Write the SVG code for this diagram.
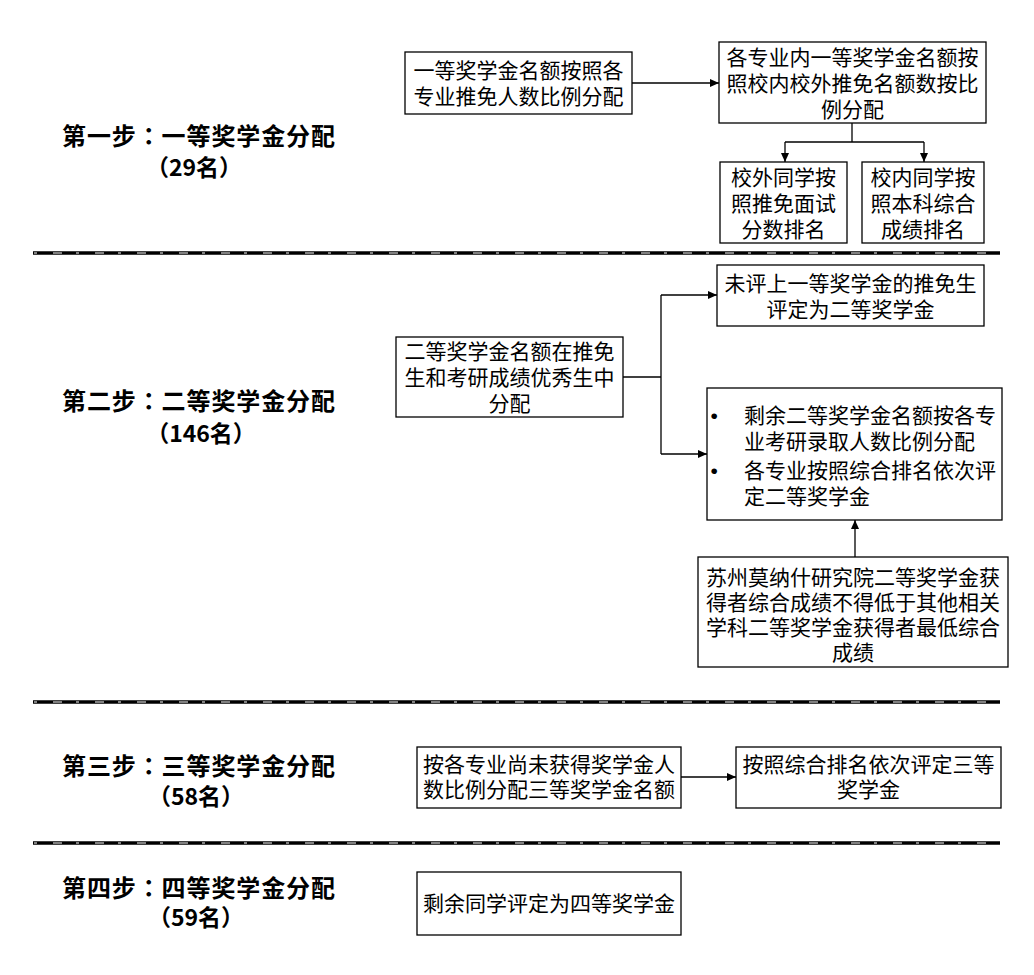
<svg xmlns="http://www.w3.org/2000/svg" width="1034" height="975" viewBox="0 0 1034 975">
<style>
.bg{fill:#ffffff}
.box{fill:#ffffff;stroke:#000000;stroke-width:1.3}
.t{font-family:"Noto Sans CJK SC","Liberation Sans",sans-serif;font-size:21px;fill:#000000;text-anchor:middle}
.tl{font-family:"Noto Sans CJK SC","Liberation Sans",sans-serif;font-size:21px;fill:#000000}
.bul{font-family:"Liberation Sans",sans-serif;font-size:21px;fill:#000000}
.step{font-family:"Noto Sans CJK SC","Liberation Sans",sans-serif;font-size:24px;font-weight:bold;fill:#000000}
.cnt{font-family:"Noto Sans CJK SC","Liberation Sans",sans-serif;font-size:23px;font-weight:bold;fill:#000000;text-anchor:middle}
.colon{font-family:"Noto Sans CJK TC","Noto Sans CJK SC",sans-serif}
.conn{fill:none;stroke:#000000;stroke-width:1.3}
.sepb{stroke:#000000;stroke-width:3.5}
.sepw{stroke:#ffffff;stroke-width:1.2;stroke-dasharray:9 14 3 16;stroke-dashoffset:22}
</style>
<defs>
<marker id="arr" markerUnits="userSpaceOnUse" markerWidth="10" markerHeight="9" refX="9" refY="4" orient="auto">
<path d="M0,0 L9,4 L0,8 z" fill="#000000"/>
</marker>
</defs>
<rect class="bg" x="0" y="0" width="1034" height="975"/>

<g id="separators">
<line class="sepb" x1="33" y1="253" x2="1000" y2="253"/>
<line class="sepw" x1="33" y1="253" x2="999" y2="253"/>
<line class="sepb" x1="33" y1="702" x2="1000" y2="702"/>
<line class="sepw" x1="33" y1="702" x2="999" y2="702"/>
<line class="sepb" x1="33" y1="843" x2="1000" y2="843"/>
<line class="sepw" x1="33" y1="843" x2="999" y2="843"/>
</g>

<g id="step1-label">
<text class="step" x="62" y="145" textLength="273" lengthAdjust="spacing">第一步<tspan class="colon">：</tspan>一等奖学金分配</text>
<text class="cnt" x="194" y="176">（29名）</text>
</g>
<g id="step2-label">
<text class="step" x="62" y="410" textLength="273" lengthAdjust="spacing">第二步<tspan class="colon">：</tspan>二等奖学金分配</text>
<text class="cnt" x="201" y="442">（146名）</text>
</g>
<g id="step3-label">
<text class="step" x="62" y="775" textLength="273" lengthAdjust="spacing">第三步<tspan class="colon">：</tspan>三等奖学金分配</text>
<text class="cnt" x="196" y="805">（58名）</text>
</g>
<g id="step4-label">
<text class="step" x="62" y="897" textLength="273" lengthAdjust="spacing">第四步<tspan class="colon">：</tspan>四等奖学金分配</text>
<text class="cnt" x="196" y="926">（59名）</text>
</g>

<g id="connectors">
<line class="conn" x1="632" y1="83" x2="719" y2="83" marker-end="url(#arr)"/>
<polyline class="conn" points="852,123 852,142"/>
<polyline class="conn" points="785,142 924,142"/>
<line class="conn" x1="785" y1="142" x2="785" y2="162" marker-end="url(#arr)"/>
<line class="conn" x1="924" y1="142" x2="924" y2="162" marker-end="url(#arr)"/>
<line class="conn" x1="623" y1="377" x2="661" y2="377"/>
<polyline class="conn" points="661,295 661,454"/>
<line class="conn" x1="661" y1="295" x2="717" y2="295" marker-end="url(#arr)"/>
<line class="conn" x1="661" y1="454" x2="707" y2="454" marker-end="url(#arr)"/>
<line class="conn" x1="855" y1="557" x2="855" y2="520" marker-end="url(#arr)"/>
<line class="conn" x1="681" y1="777" x2="736" y2="777" marker-end="url(#arr)"/>
</g>

<g id="n-a">
<rect class="box" x="405" y="52" width="227" height="62"/>
<text class="t"><tspan x="518.5" y="78">一等奖学金名额按照各</tspan><tspan x="518.5" y="104">专业推免人数比例分配</tspan></text>
</g>
<g id="n-b">
<rect class="box" x="719" y="42" width="267" height="81"/>
<text class="t"><tspan x="852.5" y="65">各专业内一等奖学金名额按</tspan><tspan x="852.5" y="91">照校内校外推免名额数按比</tspan><tspan x="852.5" y="117">例分配</tspan></text>
</g>
<g id="n-c">
<rect class="box" x="720" y="162" width="127" height="81"/>
<text class="t"><tspan x="783.5" y="185">校外同学按</tspan><tspan x="783.5" y="211">照推免面试</tspan><tspan x="783.5" y="237">分数排名</tspan></text>
</g>
<g id="n-d">
<rect class="box" x="862" y="162" width="122" height="81"/>
<text class="t"><tspan x="923" y="185">校内同学按</tspan><tspan x="923" y="211">照本科综合</tspan><tspan x="923" y="237">成绩排名</tspan></text>
</g>

<g id="n-e">
<rect class="box" x="396" y="337" width="227" height="80"/>
<text class="t"><tspan x="509.5" y="359">二等奖学金名额在推免</tspan><tspan x="509.5" y="385">生和考研成绩优秀生中</tspan><tspan x="509.5" y="411">分配</tspan></text>
</g>
<g id="n-f">
<rect class="box" x="717" y="265" width="267" height="61"/>
<text class="t"><tspan x="850.5" y="291">未评上一等奖学金的推免生</tspan><tspan x="850.5" y="317">评定为二等奖学金</tspan></text>
</g>
<g id="n-g">
<rect class="box" x="707" y="388" width="295" height="132"/>
<text class="bul"><tspan x="710.5" y="423">•</tspan><tspan x="710.5" y="478">•</tspan></text>
<text class="tl"><tspan x="744" y="423">剩余二等奖学金名额按各专</tspan><tspan x="744" y="449">业考研录取人数比例分配</tspan><tspan x="744" y="478">各专业按照综合排名依次评</tspan><tspan x="744" y="504">定二等奖学金</tspan></text>
</g>
<g id="n-h">
<rect class="box" x="698" y="557" width="310" height="110"/>
<text class="t"><tspan x="853" y="585">苏州莫纳什研究院二等奖学金获</tspan><tspan x="853" y="610">得者综合成绩不得低于其他相关</tspan><tspan x="853" y="635">学科二等奖学金获得者最低综合</tspan><tspan x="853" y="660">成绩</tspan></text>
</g>

<g id="n-i">
<rect class="box" x="417" y="747" width="264" height="61"/>
<text class="t"><tspan x="549" y="772">按各专业尚未获得奖学金人</tspan><tspan x="549" y="797">数比例分配三等奖学金名额</tspan></text>
</g>
<g id="n-j">
<rect class="box" x="736" y="747" width="265" height="61"/>
<text class="t"><tspan x="868.5" y="772">按照综合排名依次评定三等</tspan><tspan x="868.5" y="797">奖学金</tspan></text>
</g>
<g id="n-k">
<rect class="box" x="417" y="872" width="264" height="63"/>
<text class="t" x="549" y="911">剩余同学评定为四等奖学金</text>
</g>
</svg>
